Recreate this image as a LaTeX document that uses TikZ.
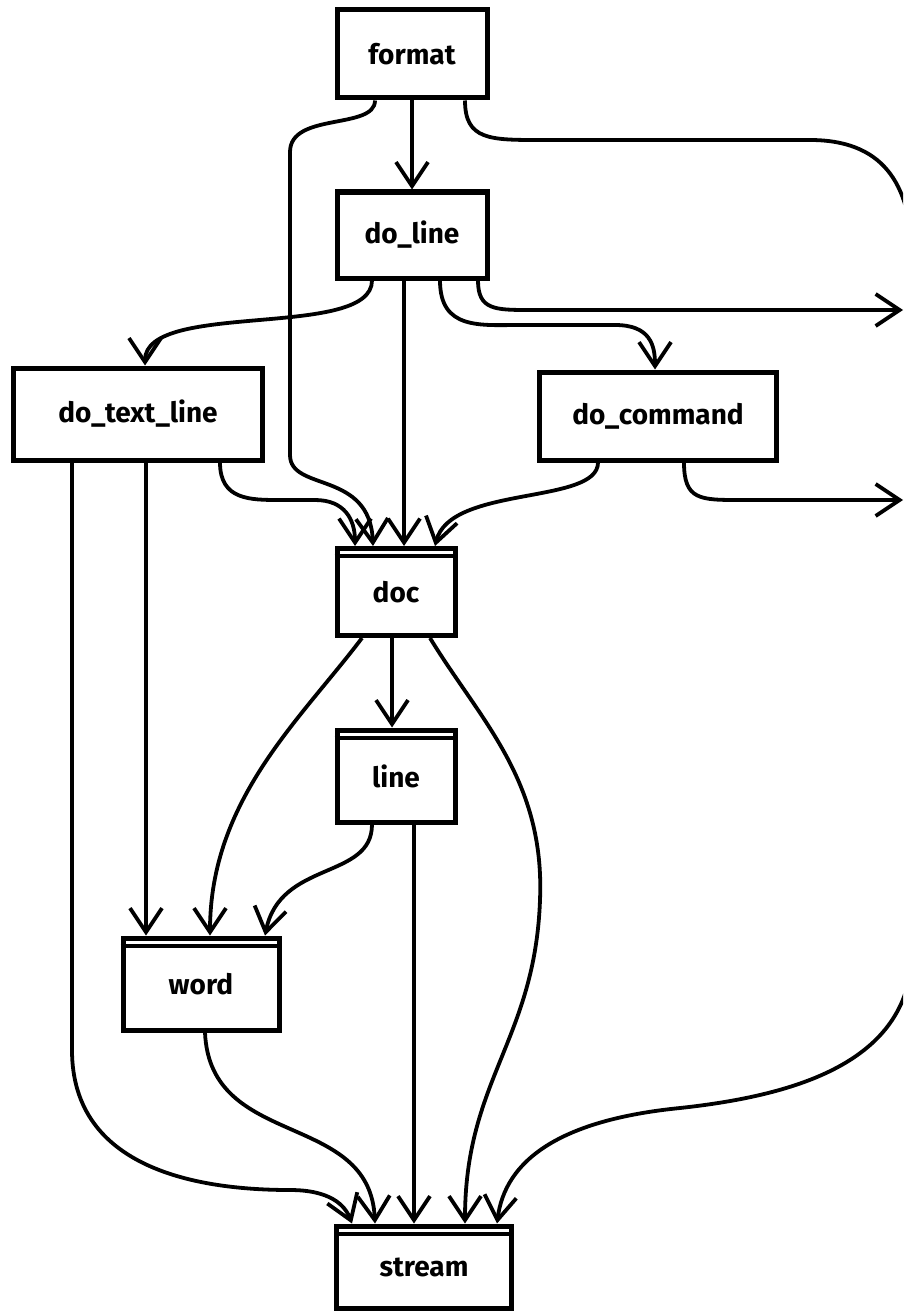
\documentclass[tikz,border=0pt]{standalone}
\usepackage{fontspec}
\setmainfont{Fira Sans}
\usetikzlibrary{arrows.meta}
\begin{document}
\begin{tikzpicture}[x=1pt,y=-1pt,
  box/.style={draw,line width=5pt,rectangle,inner sep=0pt,font=\fontsize{28}{32}\selectfont\bfseries},
  edge/.style={line width=3.8pt,-{Straight Barb[length=24pt,width=32pt,line width=3.8pt]}},
  inner/.style={line width=4pt}]
\clip (0,0) rectangle (903,1316);
\fill[white] (0,0) rectangle (903,1316);
% nodes
\node[box,minimum width=150pt,minimum height=88pt] (format) at (412,54) {format};
\node[box,minimum width=150pt,minimum height=86pt] (doline) at (412,235) {do\_line};
\node[box,minimum width=249pt,minimum height=92pt] (dotext) at (138,414) {do\_text\_line};
\node[box,minimum width=237pt,minimum height=88pt] (docmd) at (658,416) {do\_command};
\node[box,minimum width=118pt,minimum height=87pt] (doc) at (396,592) {doc};
\node[box,minimum width=118pt,minimum height=92pt] (line) at (396,776) {line};
\node[box,minimum width=156pt,minimum height=92pt] (word) at (201,984) {word};
\node[box,minimum width=175pt,minimum height=82pt] (stream) at (424,1267) {stream};
\foreach \n in {doc,line,word,stream}
  \draw[inner] ([yshift=-10pt]\n.north west) -- ([yshift=-10pt]\n.north east);
% off-page ends
\coordinate (r1) at (903,310);
\coordinate (r2) at (903,500);
% edges
\draw[edge] (format) -- (doline);
\draw[edge] ([xshift=-37pt]format.south) .. controls (375,130) and (290,112) .. (290,152) -- (290,455) .. controls (290,492) and (370,470) .. ([xshift=-23pt]doc.north);
\draw[edge] ([xshift=53pt]format.south) .. controls (465,140) and (490,140) .. (540,140) -- (810,140) .. controls (880,140) and (912,180) .. (912,260) -- (912,950) .. controls (912,1060) and (800,1095) .. (680,1108) .. controls (560,1120) and (505,1160) .. ([xshift=73pt]stream.north);
\draw[edge] ([xshift=66pt]doline.south) .. controls (478,310) and (495,310) .. (530,310) -- (r1);
\draw[edge] ([xshift=-40pt]doline.south) .. controls (372,340) and (145,300) .. ([xshift=7pt]dotext.north);
\draw[edge] ([xshift=-8pt]doline.south) -- ([xshift=8pt]doc.north);
\draw[edge] ([xshift=28pt]doline.south) .. controls (440,330) and (480,325) .. (520,325) -- (615,325) .. controls (650,325) and (655,345) .. ([xshift=-3pt]docmd.north);
\draw[edge] ([xshift=26pt]docmd.south) .. controls (684,500) and (700,500) .. (740,500) -- (r2);
\draw[edge] ([xshift=-60pt]docmd.south) .. controls (598,505) and (450,485) .. ([xshift=39pt]doc.north);
\draw[edge] ([xshift=82pt]dotext.south) .. controls (220,500) and (250,500) .. (280,500) -- (315,500) .. controls (345,500) and (355,520) .. ([xshift=-41pt]doc.north);
\draw[edge] ([xshift=8pt]dotext.south) -- ([xshift=-55pt]word.north);
\draw[edge] ([xshift=-66pt]dotext.south) -- (72,1050) .. controls (72,1170) and (200,1190) .. (290,1190) .. controls (330,1190) and (345,1205) .. ([xshift=-72pt]stream.north);
\draw[edge] ([xshift=-4pt]doc.south) -- ([xshift=-4pt]line.north);
\draw[edge] ([xshift=-34pt]doc.south) .. controls (300,720) and (210,800) .. ([xshift=9pt]word.north);
\draw[edge] ([xshift=34pt]doc.south) .. controls (480,720) and (545,780) .. (540,900) .. controls (535,1040) and (465,1080) .. ([xshift=41pt]stream.north);
\draw[edge] ([xshift=-24pt]line.south) .. controls (372,880) and (280,860) .. ([xshift=64pt]word.north);
\draw[edge] ([xshift=18pt]line.south) -- ([xshift=-10pt]stream.north);
\draw[edge] ([xshift=4pt]word.south) .. controls (210,1150) and (370,1110) .. ([xshift=-49pt]stream.north);
\end{tikzpicture}
\end{document}
